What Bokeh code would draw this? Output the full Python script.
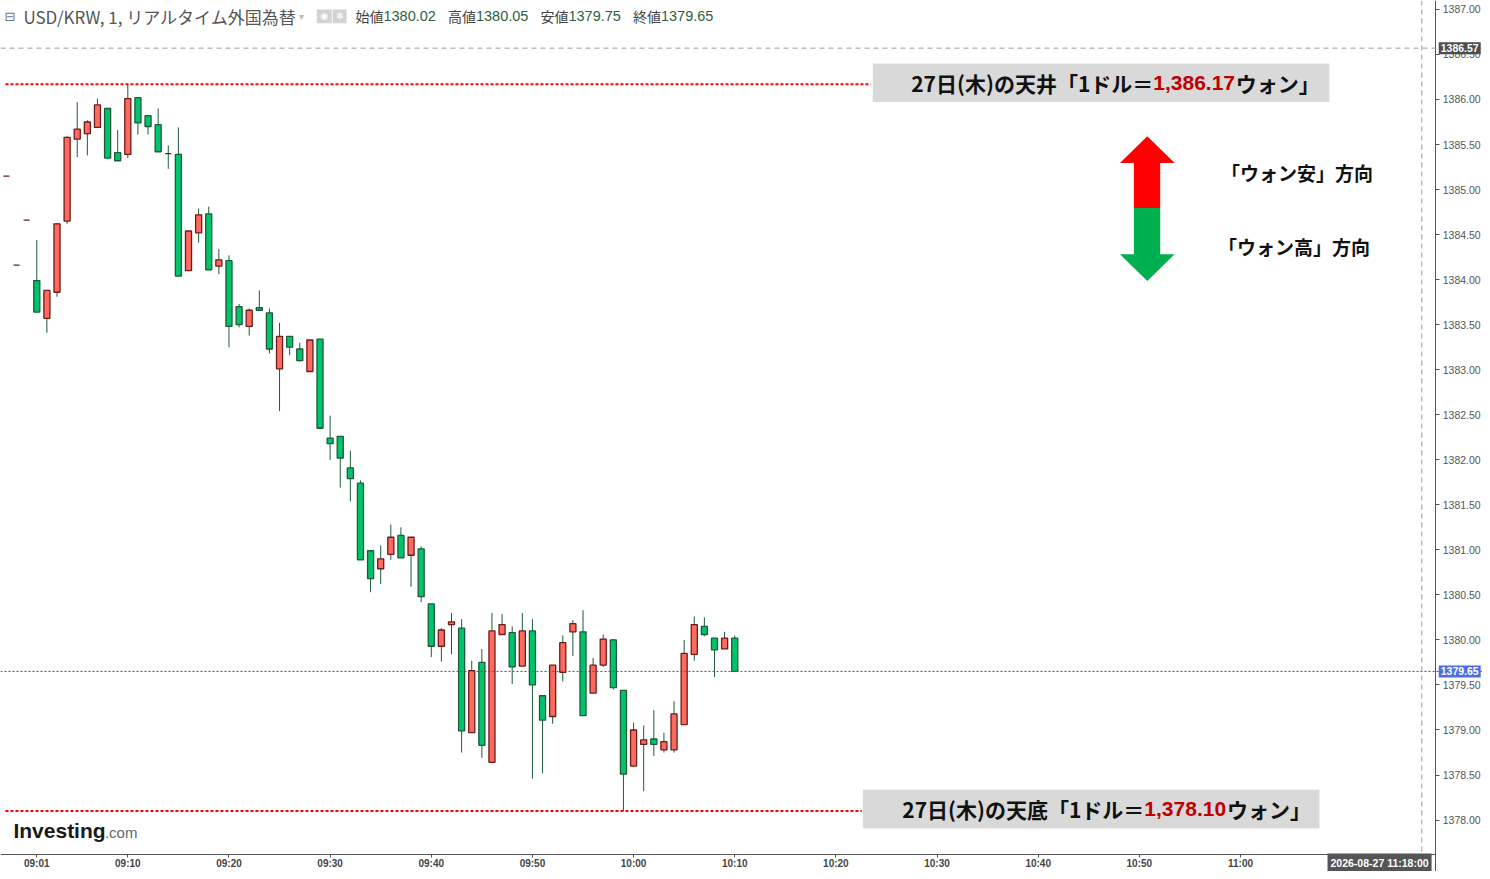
from bokeh.plotting import figure
from bokeh.models import (Range1d, FixedTicker, PrintfTickFormatter, Span, Label,
                          BoxAnnotation, PolyAnnotation, ColumnDataSource, LinearAxis)
from bokeh.embed import file_html
from bokeh.resources import INLINE

# ---------------- data (USD/KRW 1-minute candles) ----------------
times = [f"{(538 + i) // 60:02d}:{(538 + i) % 60:02d}" for i in range(73)]  # 08:58 .. 10:10
opens = [1385.15, 1384.16, 1384.66,
         1383.99, 1383.57, 1383.86, 1384.65, 1385.56, 1385.62, 1385.69, 1385.90, 1385.41, 1385.39,
         1386.02, 1385.82, 1385.72, 1385.40, 1385.39, 1384.10, 1384.52, 1384.73, 1384.15, 1384.21,
         1383.70, 1383.48, 1383.69, 1383.63, 1383.01, 1383.37, 1383.23, 1382.98, 1383.34, 1382.24,
         1382.26, 1381.91, 1381.74, 1380.99, 1380.79, 1380.95, 1381.16, 1380.94, 1381.01, 1380.40,
         1379.93, 1380.17, 1380.13, 1378.97, 1379.75, 1378.64, 1380.06, 1380.08, 1379.71, 1380.10,
         1379.38, 1379.15, 1379.64, 1380.09, 1380.09, 1379.41, 1379.72, 1380.00, 1379.44, 1378.60,
         1378.84, 1378.90, 1378.78, 1378.78, 1379.06, 1379.84, 1380.15, 1380.02, 1379.90, 1380.02]
highs = [1385.15, 1384.16, 1384.66,
         1384.44, 1383.88, 1384.63, 1385.59, 1385.97, 1385.77, 1386.01, 1385.90, 1385.66, 1386.17,
         1386.02, 1385.83, 1385.90, 1385.49, 1385.69, 1384.54, 1384.79, 1384.81, 1384.34, 1384.27,
         1383.73, 1383.68, 1383.88, 1383.68, 1383.52, 1383.37, 1383.30, 1383.33, 1383.34, 1382.49,
         1382.26, 1382.10, 1381.77, 1380.99, 1381.05, 1381.28, 1381.25, 1381.14, 1381.04, 1380.40,
         1380.13, 1380.30, 1380.23, 1379.77, 1379.90, 1380.30, 1380.29, 1380.15, 1380.30, 1380.23,
         1379.38, 1379.72, 1380.05, 1380.22, 1380.33, 1379.80, 1380.06, 1380.01, 1379.44, 1379.08,
         1379.05, 1379.22, 1378.97, 1379.32, 1380.00, 1380.26, 1380.25, 1380.02, 1380.09, 1380.05]
lows = [1385.15, 1384.16, 1384.66,
        1383.64, 1383.41, 1383.81, 1384.62, 1385.36, 1385.38, 1385.69, 1385.35, 1385.32, 1385.35,
        1385.61, 1385.61, 1385.42, 1385.23, 1384.04, 1384.10, 1384.41, 1384.11, 1384.06, 1383.25,
        1383.47, 1383.38, 1383.66, 1383.18, 1382.54, 1383.16, 1383.09, 1382.98, 1382.34, 1382.00,
        1381.69, 1381.54, 1380.89, 1380.53, 1380.62, 1380.89, 1380.91, 1380.59, 1380.42, 1379.81,
        1379.76, 1379.84, 1378.75, 1378.97, 1378.69, 1378.64, 1380.06, 1379.51, 1379.71, 1378.46,
        1378.52, 1379.07, 1379.54, 1379.82, 1379.16, 1379.41, 1379.70, 1379.45, 1378.10, 1378.60,
        1378.32, 1378.71, 1378.75, 1378.75, 1379.06, 1379.77, 1380.04, 1379.59, 1379.90, 1379.65]
closes = [1385.15, 1384.16, 1384.66,
          1383.64, 1383.88, 1384.62, 1385.58, 1385.67, 1385.75, 1385.94, 1385.35, 1385.32, 1386.01,
          1385.74, 1385.70, 1385.42, 1385.40, 1384.04, 1384.54, 1384.72, 1384.11, 1384.22, 1383.48,
          1383.50, 1383.66, 1383.66, 1383.23, 1383.37, 1383.25, 1383.10, 1383.33, 1382.35, 1382.18,
          1382.02, 1381.79, 1380.89, 1380.68, 1380.90, 1381.14, 1380.91, 1381.14, 1380.48, 1379.93,
          1380.11, 1380.20, 1378.99, 1379.66, 1378.83, 1380.10, 1380.17, 1379.70, 1380.10, 1379.50,
          1379.11, 1379.72, 1379.97, 1380.18, 1379.16, 1379.72, 1380.01, 1379.47, 1378.51, 1379.00,
          1378.89, 1378.84, 1378.87, 1379.18, 1379.85, 1380.17, 1380.06, 1379.89, 1380.02, 1379.65]

tick_minutes = [1, 10, 20, 30, 40, 50, 60, 70, 80, 90, 100, 110, 120]
tick_labels = ["09:01", "09:10", "09:20", "09:30", "09:40", "09:50", "10:00",
               "10:10", "10:20", "10:30", "10:40", "10:50", "11:00"]
price_ticks = [1378.0, 1378.5, 1379.0, 1379.5, 1380.0, 1380.5, 1381.0, 1381.5, 1382.0,
               1382.5, 1383.0, 1383.5, 1384.0, 1384.5, 1385.0, 1385.5, 1386.0, 1386.5, 1387.0]
header_ohlc = [("始値", "1380.02"), ("高値", "1380.05"), ("安値", "1379.75"), ("終値", "1379.65")]
crosshair_price = 1386.57
crosshair_time = "2026-08-27 11:18:00"

# ---------------- layout helpers (reference pixel -> data) ----------------
PX0, PXM = 26.3, 10.17      # x of 09:00, px per minute
PY0, PYU = 9.0, 90.9        # y of 1387.00, px per KRW


def X(px):
    return (px - PX0) / PXM


def Y(py):
    return 1387.0 - (py - PY0) / PYU


def minute(t):
    h, m = map(int, t.split(":"))
    return (h - 9) * 60 + m


RED_FILL, RED_LINE = "#ff6a5f", "#6b1d1d"
GRN_FILL, GRN_LINE = "#00c46c", "#1d5b3b"
WICK = "#1d5b3b"

xs = [minute(t) for t in times]
fills, lines, tops, bottoms = [], [], [], []
for o, c in zip(opens, closes):
    if c > o:
        fills.append(RED_FILL); lines.append(RED_LINE)
    elif c < o:
        fills.append(GRN_FILL); lines.append(GRN_LINE)
    else:
        fills.append(RED_LINE); lines.append(RED_LINE)
    tops.append(max(o, c)); bottoms.append(min(o, c))

src = ColumnDataSource(dict(x=xs, open=opens, high=highs, low=lows, close=closes,
                            top=tops, bottom=bottoms, fill=fills, line=lines))

p = figure(width=1482, height=871, output_backend="svg", toolbar_location=None,
           x_range=Range1d(X(0), X(1490)), y_range=Range1d(Y(879), Y(0)),
           x_axis_location=None, y_axis_location=None, min_border=0)
p.outline_line_color = None
p.xgrid.visible = False
p.ygrid.visible = False
p.background_fill_color = "white"
p.border_fill_color = "white"

# axes, fixed inside the frame where the reference draws them
yax = LinearAxis(fixed_location=X(1443), bounds=(Y(879), Y(0)),
                 ticker=FixedTicker(ticks=price_ticks), formatter=PrintfTickFormatter(format="%.2f"))
xax = LinearAxis(fixed_location=Y(862), bounds=(X(0), X(1443)),
                 ticker=FixedTicker(ticks=tick_minutes),
                 major_label_overrides={m: l for m, l in zip(tick_minutes, tick_labels)})
for ax in (xax, yax):
    ax.axis_line_color = "#555555"
    ax.major_tick_line_color = "#555555"
    ax.major_tick_in = 0
    ax.minor_tick_line_color = None
    ax.major_label_text_font = "Liberation Sans"
yax.major_tick_out = 4
yax.major_label_text_font_size = "10.5px"
yax.major_label_text_color = "#555555"
yax.major_label_standoff = 3
xax.major_tick_out = 3
xax.major_label_text_font_size = "10px"
xax.major_label_text_font_style = "bold"
xax.major_label_text_color = "#444444"
xax.major_label_standoff = 0
p.add_layout(yax, "right")
p.add_layout(xax, "below")

# reference lines
p.add_layout(Span(location=closes[-1], dimension="width", line_color="#1f4fff",
                  line_dash="2 2", line_width=1))
p.add_layout(Span(location=crosshair_price, dimension="width", line_color="#9a9a9a",
                  line_dash="5 4", line_width=1))
p.add_layout(Span(location=X(1429), dimension="height", line_color="#9a9a9a",
                  line_dash="5 4", line_width=1))

hi, lo = max(highs), min(lows)
p.segment(x0=[X(5), X(5)], x1=[X(875), X(866)], y0=[hi, lo], y1=[hi, lo],
          line_color="#ff0000", line_width=2, line_dash="3 2")

# candles
p.segment(x0="x", y0="low", x1="x", y1="high", line_color=WICK, line_width=1, source=src)
p.vbar(x="x", width=0.6, top="top", bottom="bottom", fill_color="fill",
       line_color="line", line_width=1.3, source=src)


# annotation boxes
def callout(left, right, top, bottom, split, num_end, prefix, number, suffix, ymid):
    p.add_layout(BoxAnnotation(left=X(left), right=X(right), top=Y(top), bottom=Y(bottom),
                               fill_color="#d9d9d9", fill_alpha=1, line_color=None))
    p.add_layout(Label(x=X(split), y=Y(ymid), text=prefix, text_align="right",
                       text_baseline="middle", text_font="Noto Sans CJK JP",
                       text_font_style="bold", text_font_size="21px", text_color="#111111"))
    p.add_layout(Label(x=X(split), y=Y(ymid), text=number, text_align="left",
                       text_baseline="middle", text_font="Liberation Sans",
                       text_font_style="bold", text_font_size="21px", text_color="#c00000"))
    p.add_layout(Label(x=X(num_end), y=Y(ymid), text=suffix, text_align="left",
                       text_baseline="middle", text_font="Noto Sans CJK JP",
                       text_font_style="bold", text_font_size="21px", text_color="#111111"))


callout(877, 1336, 63.5, 102.5, 1159, 1242, "27日(木)の天井「1ドル＝", f"{hi:,.2f}", "ウォン」", 83)
callout(867, 1326, 796.5, 835.5, 1150, 1233, "27日(木)の天底「1ドル＝", f"{lo:,.2f}", "ウォン」", 816)

# direction arrow
p.add_layout(PolyAnnotation(
    xs=[X(1153), X(1180.5), X(1166), X(1166), X(1139.5), X(1139.5), X(1125.5)],
    ys=[Y(137), Y(164), Y(164), Y(209.5), Y(209.5), Y(164), Y(164)],
    fill_color="#ff0000", fill_alpha=1, line_color=None))
p.add_layout(PolyAnnotation(
    xs=[X(1139.5), X(1166), X(1166), X(1180.5), X(1153), X(1125.5), X(1139.5)],
    ys=[Y(209.5), Y(209.5), Y(256), Y(256), Y(283), Y(256), Y(256)],
    fill_color="#00b050", fill_alpha=1, line_color=None))
p.add_layout(Label(x=X(1227), y=Y(174), text="「ウォン安」方向", text_baseline="middle",
                   text_font="Noto Sans CJK JP", text_font_style="bold",
                   text_font_size="19px", text_color="#111111"))
p.add_layout(Label(x=X(1224), y=Y(248), text="「ウォン高」方向", text_baseline="middle",
                   text_font="Noto Sans CJK JP", text_font_style="bold",
                   text_font_size="19px", text_color="#111111"))

# header
p.add_layout(Label(x=X(4), y=Y(16), text="⊟", text_baseline="middle", text_font="DejaVu Sans",
                   text_font_size="13px", text_color="#777777"))
p.add_layout(Label(x=X(23), y=Y(16), text="USD/KRW, 1, リアルタイム外国為替", text_baseline="middle",
                   text_font="Noto Sans CJK JP", text_font_size="17px", text_color="#555555"))
p.add_layout(Label(x=X(300), y=Y(16), text="▾", text_baseline="middle", text_font="DejaVu Sans",
                   text_font_size="10px", text_color="#bbbbbb"))
for l, r, g in ((318, 333, "◉"), (334, 348, "✻")):
    p.add_layout(BoxAnnotation(left=X(l), right=X(r), top=Y(9), bottom=Y(23),
                               fill_color="#d2d2d2", fill_alpha=1, line_color=None))
    p.add_layout(Label(x=X((l + r) / 2), y=Y(16), text=g, text_align="center",
                       text_baseline="middle", text_font="DejaVu Sans",
                       text_font_size="9px", text_color="white"))
for i, (name, val) in enumerate(header_ohlc):
    x0 = 357 + i * 93
    p.add_layout(Label(x=X(x0), y=Y(16), text=name, text_baseline="middle",
                       text_font="Noto Sans CJK JP", text_font_size="14px", text_color="#444444"))
    p.add_layout(Label(x=X(x0 + 28), y=Y(16), text=val, text_baseline="middle",
                       text_font="Liberation Sans", text_font_size="14.5px", text_color="#2f5e3e"))

# logo
p.add_layout(Label(x=X(13), y=Y(838), text="Investing", text_baseline="middle",
                   text_font="Liberation Sans", text_font_style="bold",
                   text_font_size="21px", text_color="#1a1a1a"))
p.add_layout(Label(x=X(105), y=Y(840), text=".com", text_baseline="middle",
                   text_font="Liberation Sans", text_font_size="15px", text_color="#666666"))

# axis price tags and time tag
p.add_layout(Label(x=X(1446), y=crosshair_price, text=f"{crosshair_price:.2f}",
                   text_baseline="middle", text_font="Liberation Sans", text_font_style="bold",
                   text_font_size="10.5px", text_color="white", background_fill_color="#4d4d4d",
                   padding=2))
p.add_layout(Label(x=X(1446), y=closes[-1], text=f"{closes[-1]:.2f}",
                   text_baseline="middle", text_font="Liberation Sans", text_font_style="bold",
                   text_font_size="10.5px", text_color="white", background_fill_color="#4a6fe3",
                   padding=2))
p.add_layout(Label(x=X(1386.5), y=Y(870), text=crosshair_time, text_align="center",
                   text_baseline="middle", text_font="Liberation Sans", text_font_style="bold",
                   text_font_size="10.5px", text_color="white", background_fill_color="#555555",
                   padding=3))

open("out.html", "w").write(file_html(p, INLINE))
